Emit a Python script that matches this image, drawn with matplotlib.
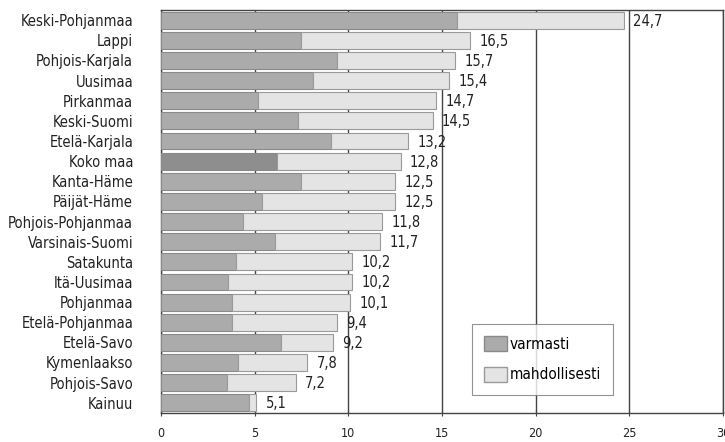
import matplotlib
matplotlib.use("Agg")
import matplotlib.pyplot as plt
from matplotlib.patches import Patch

regions = ["Keski-Pohjanmaa", "Lappi", "Pohjois-Karjala", "Uusimaa", "Pirkanmaa",
           "Keski-Suomi", "Etelä-Karjala", "Koko maa", "Kanta-Häme", "Päijät-Häme",
           "Pohjois-Pohjanmaa", "Varsinais-Suomi", "Satakunta", "Itä-Uusimaa",
           "Pohjanmaa", "Etelä-Pohjanmaa", "Etelä-Savo", "Kymenlaakso",
           "Pohjois-Savo", "Kainuu"]
varmasti = [15.8, 7.5, 9.4, 8.1, 5.2, 7.3, 9.1, 6.2, 7.5, 5.4,
            4.4, 6.1, 4.0, 3.6, 3.8, 3.8, 6.4, 4.1, 3.5, 4.7]
total = [24.7, 16.5, 15.7, 15.4, 14.7, 14.5, 13.2, 12.8, 12.5, 12.5,
         11.8, 11.7, 10.2, 10.2, 10.1, 9.4, 9.2, 7.8, 7.2, 5.1]
mahdollisesti = [round(t - v, 1) for t, v in zip(total, varmasti)]
xticks = [0, 5, 10, 15, 20, 25, 30]

FONT = ["DejaVu Sans"]
STRETCH = "condensed"

fig = plt.figure(figsize=(7.25, 4.42), dpi=100)
ax = fig.add_axes([0.222, 0.066, 0.775, 0.911])

n = len(regions)
ypos = list(range(n))
dark_cols = ["#8e8e8e" if r == "Koko maa" else "#ababab" for r in regions]
ax.barh(ypos, varmasti, height=0.84, color=dark_cols, edgecolor="#8a8a8a",
        linewidth=0.8, zorder=3)
ax.barh(ypos, mahdollisesti, left=varmasti, height=0.84, color="#e4e4e4",
        edgecolor="#9a9a9a", linewidth=0.8, zorder=3)

for y, t in zip(ypos, total):
    ax.text(t + 0.5, y + 0.05, f"{t:.1f}".replace(".", ","), va="center", ha="left",
            fontsize=10.5, family=FONT, stretch=STRETCH, color="#222222", zorder=5)

ax.set_ylim(n - 0.5, -0.5)
ax.set_xlim(0, 30)
ax.set_yticks(ypos)
ax.set_yticklabels(regions, family=FONT, stretch=STRETCH, fontsize=10.5, color="#222222")
ax.set_xticks(xticks)
ax.set_xticklabels([str(x) for x in xticks], family=FONT, stretch=STRETCH, fontsize=9, color="#222222")
ax.tick_params(axis="y", length=0, pad=20)
ax.tick_params(axis="x", length=5, direction="inout", pad=8, color="#444444")
ax.xaxis.grid(True, color="#444444", linewidth=1.0, zorder=0)
ax.set_axisbelow(True)
for s in ax.spines.values():
    s.set_color("#444444")
    s.set_linewidth(1.0)

handles = [Patch(facecolor="#ababab", edgecolor="#8a8a8a", label="varmasti"),
           Patch(facecolor="#e4e4e4", edgecolor="#9a9a9a", label="mahdollisesti")]
leg = ax.legend(handles=handles, loc="lower left", bbox_to_anchor=(0.553, 0.045),
                frameon=True, fancybox=False, edgecolor="#777777",
                prop={"family": FONT, "stretch": STRETCH, "size": 11}, handlelength=1.5,
                handleheight=1.1, handletextpad=0.2, labelspacing=1.0,
                borderpad=0.8, borderaxespad=0)
leg.get_frame().set_linewidth(0.8)
leg.set_zorder(6)

fig.savefig("out.png", dpi=100)
